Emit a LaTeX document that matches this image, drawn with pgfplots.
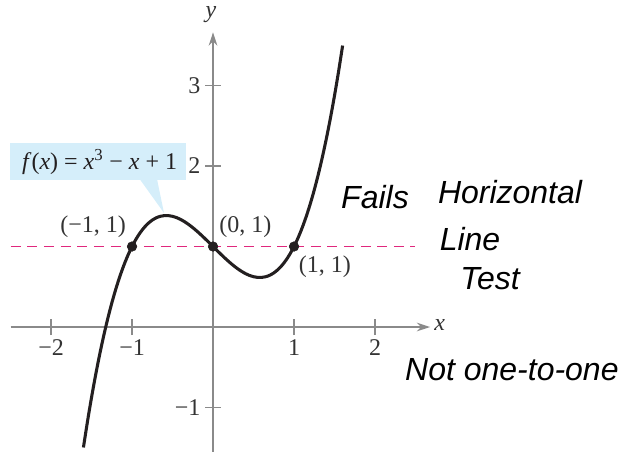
\documentclass[border=0pt]{standalone}
\usepackage{fontspec}
\setmainfont{Liberation Serif}
\newfontfamily\handfont{Liberation Sans}
\usepackage{pgfplots}
\pgfplotsset{compat=1.18}
\usetikzlibrary{arrows.meta}

\definecolor{axisgray}{HTML}{8A8A8A}
\definecolor{curveblack}{HTML}{231F20}
\definecolor{dashpink}{HTML}{E0287D}
\definecolor{calloutblue}{HTML}{D5EEFA}
\definecolor{labelgray}{HTML}{333333}

\begin{document}
\begin{tikzpicture}
\begin{axis}[
  scale only axis,
  width=314.7pt, height=314.6pt,
  xmin=-2.5, xmax=2.68, ymin=-1.55, ymax=3.66,
  axis lines=middle,
  axis line style={axisgray, line width=1.1pt, -{Stealth[length=10pt,width=6.5pt]}},
  xtick={-2,-1,1,2}, xticklabels={−2,−1,1,2},
  ytick={-1,2,3}, yticklabels={−1,2,3},
  tick align=center, major tick length=12pt,
  tick style={axisgray, line width=1.1pt},
  ticklabel style={font=\fontsize{18}{20}\selectfont, text=labelgray},
  clip=false,
]
  % callout for the function rule
  \fill[calloutblue] (axis cs:-2.506,1.826) rectangle (axis cs:-0.333,2.286);
  \fill[calloutblue] (axis cs:-0.90,1.83) -- (axis cs:-0.69,1.83) -- (axis cs:-0.605,1.416) -- cycle;
  \node[font=\fontsize{18}{20}\selectfont, text=curveblack] at (axis cs:-1.40,2.05)
    {\textit{f}(\textit{x}) = \textit{x}\textsuperscript{3} − \textit{x} + 1};

  % horizontal line y = 1
  \addplot[dashpink, line width=1.1pt, dash pattern=on 7.5pt off 5pt]
    coordinates {(-2.5,1) (2.49,1)};

  % f(x) = x^3 - x + 1
  \addplot[curveblack, line width=2.3pt, smooth] coordinates {
    (-1.60,-1.4960) (-1.55,-1.1739) (-1.50,-0.8750) (-1.45,-0.5986)
    (-1.40,-0.3440) (-1.35,-0.1104) (-1.30,0.1030) (-1.25,0.2969)
    (-1.20,0.4720) (-1.15,0.6291) (-1.10,0.7690) (-1.05,0.8924)
    (-1.00,1.0000) (-0.95,1.0926) (-0.90,1.1710) (-0.85,1.2359)
    (-0.80,1.2880) (-0.75,1.3281) (-0.70,1.3570) (-0.65,1.3754)
    (-0.60,1.3840) (-0.55,1.3836) (-0.50,1.3750) (-0.45,1.3589)
    (-0.40,1.3360) (-0.35,1.3071) (-0.30,1.2730) (-0.25,1.2344)
    (-0.20,1.1920) (-0.15,1.1466) (-0.10,1.0990) (-0.05,1.0499)
    (0.00,1.0000) (0.05,0.9501) (0.10,0.9010) (0.15,0.8534)
    (0.20,0.8080) (0.25,0.7656) (0.30,0.7270) (0.35,0.6929)
    (0.40,0.6640) (0.45,0.6411) (0.50,0.6250) (0.55,0.6164)
    (0.60,0.6160) (0.65,0.6246) (0.70,0.6430) (0.75,0.6719)
    (0.80,0.7120) (0.85,0.7641) (0.90,0.8290) (0.95,0.9074)
    (1.00,1.0000) (1.05,1.1076) (1.10,1.2310) (1.15,1.3709)
    (1.20,1.5280) (1.25,1.7031) (1.30,1.8970) (1.35,2.1104)
    (1.40,2.3440) (1.45,2.5986) (1.50,2.8750) (1.55,3.1739)
    (1.60,3.4960)
  };

  % points where the line meets the curve
  \addplot[only marks, mark=*, mark size=3.6pt, curveblack,
           mark options={fill=curveblack}]
    coordinates {(-1,1) (0,1) (1,1)};

  \begin{scope}[font=\fontsize{18}{20}\selectfont, text=labelgray]
    \node at (axis cs:-1.48,1.25) {(−1, 1)};
    \node at (axis cs:0.40,1.25) {(0, 1)};
    \node at (axis cs:1.38,0.745) {(1, 1)};
    \node at (axis cs:2.80,0.02) {\textit{x}};
    \node at (axis cs:-0.025,3.88) {\textit{y}};
  \end{scope}

  % handwritten notes
  \begin{scope}[font=\handfont\itshape\fontsize{24}{26}\selectfont, text=black]
    \node at (axis cs:2.0,1.615) {Fails};
    \node at (axis cs:3.667,1.677) {Horizontal};
    \node at (axis cs:3.173,1.09) {Line};
    \node at (axis cs:3.42,0.60) {Test};
    \node at (axis cs:3.69,-0.534) {Not one-to-one};
  \end{scope}

  \coordinate (bbsw) at (axis cs:-2.63,-1.553);
  \coordinate (bbne) at (axis cs:5.037,4.062);
\end{axis}
\pgfresetboundingbox
\useasboundingbox (bbsw) rectangle (bbne);
\end{tikzpicture}
\end{document}
